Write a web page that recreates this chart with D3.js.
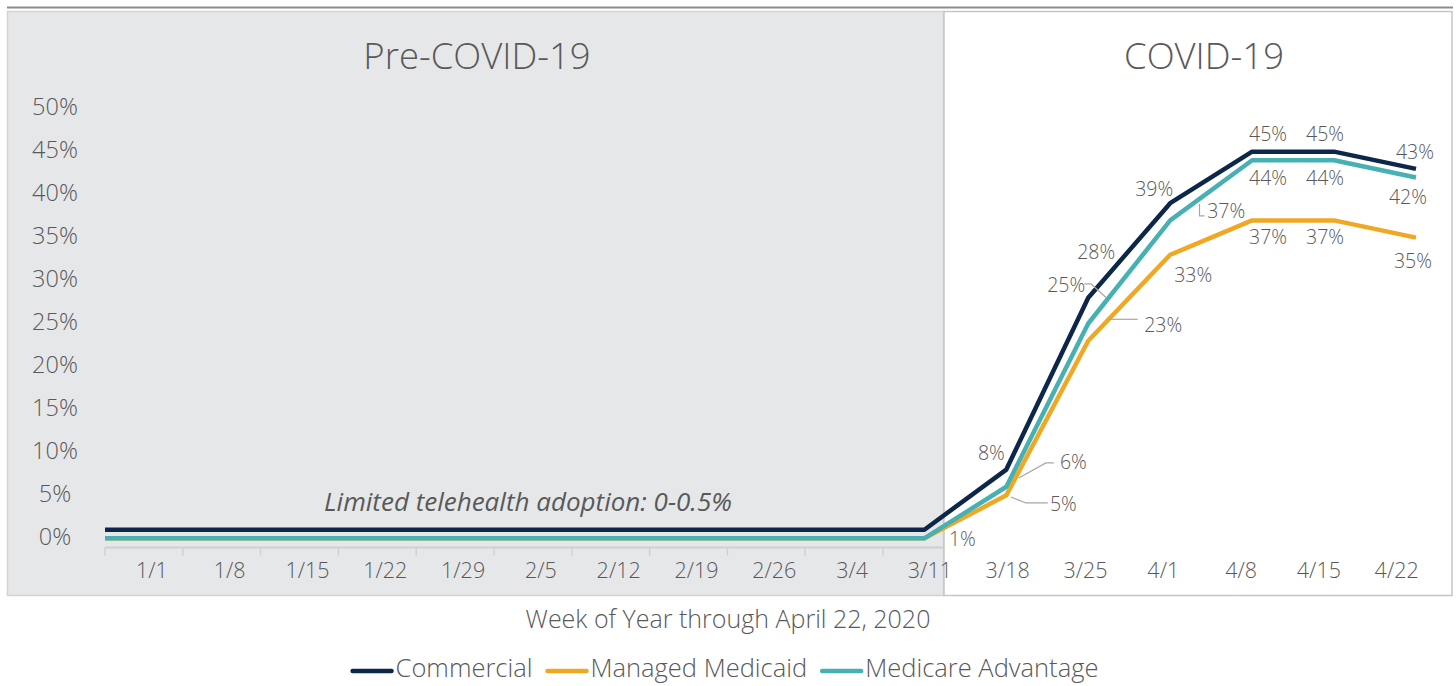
<!DOCTYPE html>
<html>
<head>
<meta charset="utf-8">
<script src="https://cdn.jsdelivr.net/npm/d3@7"></script>
<style>
  html, body { margin: 0; padding: 0; background: #ffffff; }
  svg { display: block; }
  text { font-family: "Open Sans", "Noto Sans", sans-serif; font-weight: 300; fill: #595959; }
</style>
</head>
<body>
<svg id="chart" width="1456" height="686"></svg>
<script>
// ---------------- DATA ----------------
const weeks = ["1/1","1/8","1/15","1/22","1/29","2/5","2/12","2/19","2/26","3/4","3/11","3/18","3/25","4/1","4/8","4/15","4/22"];
const commercial      = [1,1,1,1,1,1,1,1,1,1,1, 8,28,39,45,45,43];
const managedMedicaid = [0,0,0,0,0,0,0,0,0,0,0, 5,23,33,37,37,35];
const medicareAdv     = [0,0,0,0,0,0,0,0,0,0,0, 6,25,37,44,44,42];
const yTickValues = [0,5,10,15,20,25,30,35,40,45,50];
const seriesNames = ["Commercial","Managed Medicaid","Medicare Advantage"];
const periodTitles = ["Pre-COVID-19","COVID-19"];
const annotationText = "Limited telehealth adoption: 0-0.5%";
const xAxisTitle = "Week of Year through April 22, 2020";

// ---------------- STYLE / LAYOUT ----------------
const colors = ["#0c2749", "#f0a823", "#46b0b3"];
const W = 1456, H = 686;
const svg = d3.select("#chart");

const series = [
  { name: seriesNames[0], values: commercial,      color: colors[0] },
  { name: seriesNames[1], values: managedMedicaid, color: colors[1] },
  { name: seriesNames[2], values: medicareAdv,     color: colors[2] }
];

// label layout: [seriesIdx, pointIdx, dx, dy, leader offsets relative to point]
const labelLayout = [
  [0,10, 38,  9, null],
  [0,11,-15,-16, null],
  [0,12,  8,-46, null],
  [0,13,-16,-14, null],
  [0,14, 16,-17, null],
  [0,15, -9,-17, null],
  [0,16, -1,-17, null],
  [1,11, 57,  9, [[4.5,1.6],[19.5,7.6],[41.5,7.6]]],
  [1,12, 75,-16, [[19.4,-21.4],[49.4,-21.4]]],
  [1,13, 23, 20, null],
  [1,14, 16, 17, null],
  [1,15, -9, 17, null],
  [1,16, -3, 24, null],
  [2,11, 67,-25, [[12.5,-8.8],[39.5,-23.8],[47.5,-23.8]]],
  [2,12,-22,-38, [[17.7,-26],[2.7,-39.6],[-4,-39.6]]],
  [2,13, 56, -9, [[29.3,-16.5],[29.3,-4.5],[34.3,-4.5]]],
  [2,14, 16, 18, null],
  [2,15, -9, 18, null],
  [2,16, -8, 20, null]
];

// ---------------- SCALES ----------------
const y = d3.scaleLinear().domain([0, 50]).range([538.3, 108.7]);
const xPoint = d3.scalePoint().domain(weeks).range([105, 1416]);
const xBand = d3.scaleBand().domain(weeks).range([105, 105 + 77.8 * weeks.length]);

// ---------------- BACKGROUND PANELS ----------------
svg.append("rect").attr("x", 0).attr("y", 0).attr("width", W).attr("height", H).attr("fill", "#ffffff");
svg.append("line").attr("x1", 7).attr("x2", 1453).attr("y1", 7.5).attr("y2", 7.5)
  .attr("stroke", "#8c8c8c").attr("stroke-width", 2);
svg.append("rect").attr("x", 7.5).attr("y", 11.5).attr("width", 936).attr("height", 584)
  .attr("fill", "#e6e7e9").attr("stroke", "#d2d3d5").attr("stroke-width", 1.5);
svg.append("rect").attr("x", 944).attr("y", 11.5).attr("width", 508).attr("height", 584)
  .attr("fill", "#ffffff").attr("stroke", "#c6c6c6").attr("stroke-width", 1.5);

// ---------------- AXES ----------------
const axisY = 547.5;
svg.append("line").attr("x1", xBand(weeks[0])).attr("x2", 943).attr("y1", axisY).attr("y2", axisY)
  .attr("stroke", "#cfd0d2").attr("stroke-width", 2);
svg.append("g").selectAll("line")
  .data(weeks.filter(w => xBand(w) < 943))
  .join("line")
  .attr("x1", d => xBand(d)).attr("x2", d => xBand(d))
  .attr("y1", axisY).attr("y2", axisY + 8)
  .attr("stroke", "#cfd0d2").attr("stroke-width", 1.5);

const xAxisG = svg.append("g").attr("transform", `translate(8, ${axisY})`)
  .call(d3.axisBottom(xBand).tickSize(0).tickPadding(0));
xAxisG.select(".domain").remove();
xAxisG.attr("font-family", null).attr("font-size", null);
xAxisG.selectAll("text")
  .attr("y", 22.5).attr("dy", "0.35em")
  .style("font-size", "21.5px").style("fill", "#595959");

const yAxisG = svg.append("g").attr("transform", "translate(55,0)")
  .call(d3.axisLeft(y).tickValues(yTickValues).tickFormat(d => d + "%").tickSize(0));
yAxisG.select(".domain").remove();
yAxisG.attr("font-family", null).attr("font-size", null);
yAxisG.selectAll("text")
  .attr("x", 0).attr("dy", "0.35em").attr("text-anchor", "middle")
  .attr("transform", "translate(0,-2)")
  .style("font-size", "23.5px");

// ---------------- TITLES ----------------
svg.append("text").attr("x", 477).attr("y", 56).attr("dy", "0.35em").attr("text-anchor", "middle")
  .style("font-size", "36.5px").text(periodTitles[0]);
svg.append("text").attr("x", 1204).attr("y", 56).attr("dy", "0.35em").attr("text-anchor", "middle")
  .style("font-size", "36.5px").text(periodTitles[1]);
svg.append("text").attr("x", 528).attr("y", 502).attr("dy", "0.35em").attr("text-anchor", "middle")
  .style("font-size", "26px").style("font-style", "italic").style("font-weight", 400)
  .text(annotationText);

// ---------------- LINES ----------------
const line = d3.line().x((d, i) => xPoint(weeks[i])).y(d => y(d));
svg.append("g").selectAll("path")
  .data(series)
  .join("path")
  .attr("d", d => line(d.values))
  .attr("fill", "none")
  .attr("stroke", d => d.color)
  .attr("stroke-width", 4.5)
  .attr("stroke-linejoin", "round");

// ---------------- DATA LABELS ----------------
const lblG = svg.append("g");
labelLayout.forEach(([si, pi, dx, dy, leader]) => {
  const s = series[si];
  const px = xPoint(weeks[pi]), py = y(s.values[pi]);
  if (leader) {
    lblG.append("path")
      .attr("d", d3.line()(leader.map(([ox, oy]) => [px + ox, py + oy])))
      .attr("fill", "none").attr("stroke", "#a6a6a6").attr("stroke-width", 1.2);
  }
  lblG.append("text")
    .attr("x", px + dx).attr("y", py + dy).attr("dy", "0.35em")
    .attr("text-anchor", "middle")
    .style("font-size", "19.5px")
    .text(s.values[pi] + "%");
});

// ---------------- AXIS TITLE ----------------
svg.append("text").attr("x", 728).attr("y", 619).attr("dy", "0.35em").attr("text-anchor", "middle")
  .style("font-size", "25px").text(xAxisTitle);

// ---------------- LEGEND ----------------
const legG = svg.append("g");
const sampleW = 43, gapAfterSample = 2, gapBetween = 13;
const items = series.map(s => {
  const t = legG.append("text").attr("y", 668.5).attr("dy", "0.35em").style("font-size", "25.5px").text(s.name);
  return { s, t, w: t.node().getComputedTextLength() };
});
const totalW = d3.sum(items, d => sampleW + gapAfterSample + d.w) + gapBetween * (items.length - 1);
let cx = 724.5 - totalW / 2;
items.forEach(it => {
  legG.append("line").attr("x1", cx + 2).attr("x2", cx + sampleW - 2).attr("y1", 671).attr("y2", 671)
    .attr("stroke", it.s.color).attr("stroke-width", 4.5).attr("stroke-linecap", "round");
  it.t.attr("x", cx + sampleW + gapAfterSample);
  cx += sampleW + gapAfterSample + it.w + gapBetween;
});
</script>
</body>
</html>
